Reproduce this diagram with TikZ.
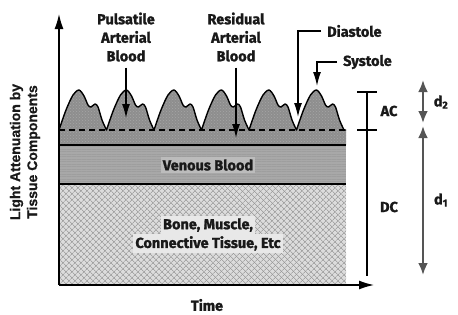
\documentclass[tikz,border=0pt]{standalone}
\usepackage{fontspec}
\newfontfamily\lblfont{Fira Sans}[BoldFeatures={FakeBold=1.3}]
\newfontfamily\axfont{Liberation Sans}[BoldFeatures={FakeBold=0.8}]
\usepackage{tikz}
\usetikzlibrary{patterns, patterns.meta, arrows.meta, positioning}

\definecolor{artgray}{HTML}{8E8E8E}
\definecolor{vengray}{HTML}{A8A8A8}
\definecolor{bonegray}{HTML}{DCDCDC}
\definecolor{hatchgray}{HTML}{8A8A8A}
\definecolor{venlbl}{HTML}{BCBCBC}
\definecolor{bonelbl}{HTML}{E8E8E8}
\definecolor{dgray}{HTML}{555555}

\tikzset{
  lbl/.style={font=\lblfont\bfseries\fontsize{14.5}{18.5}\selectfont, align=center, inner sep=1pt, text=black!90},
  axlbl/.style={font=\axfont\bfseries\fontsize{14}{17}\selectfont, align=center, inner sep=0pt, text=black!90},
  axis/.style={line width=1.4pt, -{Latex[length=15pt,width=9pt]}},
  ptr/.style={line width=1.4pt, -{Latex[length=14pt,width=8pt]}},
  darr/.style={line width=2.6pt, draw=dgray, {Latex[length=12pt,width=10pt]}-{Latex[length=12pt,width=10pt]}},
  bracket/.style={line width=1.3pt},
  wave/.style={line width=1.4pt, line join=round},
  dashline/.style={line width=1.3pt, dash pattern=on 6pt off 4pt},
  arterial/.style={fill=artgray, postaction={pattern=crosshatch dots, pattern color=black!35}},
  venous/.style={fill=vengray, postaction={pattern={Lines[angle=0,distance=2.5pt,line width=0.5pt]}, pattern color=black!38}},
  bone/.style={fill=bonegray,
    postaction={pattern={Lines[angle=45,distance=4pt,line width=0.6pt]}, pattern color=hatchgray},
    postaction={pattern={Lines[angle=-45,distance=4pt,line width=0.6pt]}, pattern color=hatchgray}}
}

% one heart beat after the other, diastole to diastole
\newcommand\pulsetrain{%
  \foreach \i [evaluate=\i as \x using 59+47.5*\i] in {0,...,5}{
    -- plot[smooth, tension=0.5] coordinates {(\x,130) ({\x+7},110) ({\x+14},95) ({\x+20},90)
      ({\x+25},96) ({\x+29},105) ({\x+32},107) ({\x+36},104) ({\x+39},107) ({\x+43},120) ({\x+47.5},130)}
  }}

\begin{document}
\begin{tikzpicture}[x=1pt, y=-1pt]
\useasboundingbox (0,0) rectangle (458,314);

% tissue layers
\fill[bone] (59,184) rectangle (346,285);
\fill[venous] (59,145) rectangle (346,184);
\fill[arterial] (59,145) -- (59,130) \pulsetrain -- (346,130) -- (346,145) -- cycle;
\draw[wave] (59,130) \pulsetrain -- (346,130);
\draw[dashline] (59,130) -- (346,130);
\draw[bracket] (59,145) -- (346,145);
\draw[bracket] (59,184) -- (346,184);

\node[lbl, fill=venlbl, inner sep=2pt] (venous) at (208,165) {Venous Blood};
\node[lbl, fill=bonelbl, inner sep=2pt] (bone1) at (208,225) {Bone, Muscle,};
\node[lbl, fill=bonelbl, inner sep=2pt, below=0pt of bone1] (bone2) {Connective Tissue, Etc};

% axes
\coordinate (origin) at (59,285);
\coordinate (y end) at (59,14);
\coordinate (x end) at (374,285);
\draw[axis] (origin) -- (y end);
\draw[axis] (origin) -- (x end);
\node[lbl] (time) at (207,305) {Time};
\node[axlbl, rotate=90] (ylabel) at (25,152) {Light Attenuation by\\Tissue Components};

% pointers
\node[lbl] (pulsatile) at (126,37) {Pulsatile\\Arterial\\Blood};
\node[lbl] (residual) at (236,37) {Residual\\Arterial\\Blood};
\coordinate (pulsatile tip) at (126,118);
\coordinate (residual tip) at (236,138);
\draw[ptr, shorten <=5pt] (pulsatile) -- (pulsatile tip);
\draw[ptr, shorten <=5pt] (residual) -- (residual tip);

\node[lbl, anchor=west] (diastole) at (326,31) {Diastole};
\node[lbl, anchor=west] (systole) at (342,62) {Systole};
\coordinate (diastole tip) at (298,117);
\coordinate (systole tip) at (317,86);
\draw[ptr, shorten <=5pt] (diastole.west) -| (diastole tip);
\draw[ptr, shorten <=5pt] (systole.west) -| (systole tip);

% AC / DC bracket
\coordinate (ac top) at (367,92);
\coordinate (ac mid) at (367,130);
\coordinate (dc bot) at (367,276);
\draw[bracket] (ac top) -- (dc bot);
\draw[bracket] ([xshift=-10pt]ac top) -- ([xshift=10pt]ac top);
\draw[bracket] ([xshift=-10pt]ac mid) -- ([xshift=10pt]ac mid);
\node[lbl] (ac) at (389,111) {AC};
\node[lbl] (dc) at (389,207) {DC};

% path lengths
\coordinate (d top) at (423,80);
\coordinate (d mid up) at (423,123);
\coordinate (d mid down) at (423,126);
\coordinate (d bot) at (423,275);
\draw[darr] (d top) -- (d mid up);
\draw[darr] (d mid down) -- (d bot);
\node[lbl] (d2) at (441,102) {d\textsubscript{2}};
\node[lbl] (d1) at (441,200) {d\textsubscript{1}};
\end{tikzpicture}
\end{document}
